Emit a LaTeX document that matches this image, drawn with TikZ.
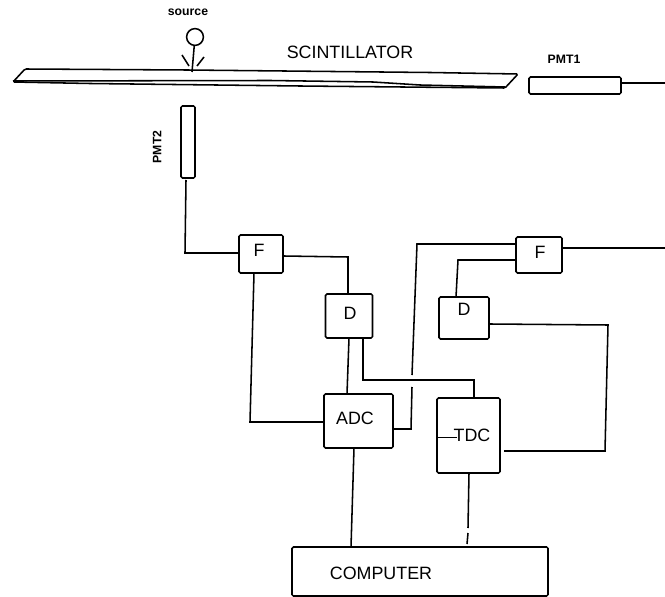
\documentclass[tikz,border=0pt]{standalone}
\usepackage{fontspec}
\setmainfont{Liberation Sans}
\usepackage{tikz}

\begin{document}
\begin{tikzpicture}[x=0.025cm,y=-0.025cm,line width=1.1pt,
  unit/.style 2 args={draw,rounded corners=1pt,minimum width=#1*0.025cm,minimum height=#2*0.025cm,inner sep=0pt},
  txt/.style={font=\fontsize{12.7}{14}\selectfont,inner sep=0pt},
  tag/.style={font=\fontsize{8.7}{10}\selectfont\bfseries,inner sep=0pt}]
  \useasboundingbox (0,0) rectangle (665,597);

  % scintillator bar and source
  \draw[rounded corners=1pt] (13,82) -- (25,69) -- (187,70) -- (430,72.5) -- (518,74) -- (505,88) -- (300,86) -- (90,83.5) -- cycle;
  \draw (13,81) -- (270,80.5) -- (373,82) -- (420,85) -- (505,87);
  \node[draw,circle,minimum size=0.42cm,inner sep=0pt] (source) at (195,37) {};
  \coordinate (hit) at (192,72);
  \draw (source) -- (hit);
  \draw (182,55) -- (189,66);
  \draw (204,57) -- (197,66);
  \node[tag] (sourcelabel) at (188,12) {source};
  \node[txt] (scint) at (350,52) {SCINTILLATOR};

  % photomultipliers
  \node[unit={92}{17}] (pmt1) at (575,85.5) {};
  \node[tag] (pmt1label) at (564,59) {PMT1};
  \node[unit={14}{72}] (pmt2) at (188,142) {};
  \node[tag,rotate=90] (pmt2label) at (157,147) {PMT2};

  % electronics
  \node[unit={44}{38}] (f1) at (261,254) {};
  \node[txt] (f1text) at (259,250) {F};
  \node[unit={47}{44}] (d1) at (349,316) {};
  \node[txt] (d1text) at (350,313) {D};
  \node[unit={69}{54}] (adc) at (358.5,421) {};
  \node[txt] (adctext) at (355,418) {ADC};
  \node[unit={46}{36}] (f2) at (539,255) {};
  \node[txt] (f2text) at (540,252) {F};
  \node[unit={50}{42}] (d2) at (464,318) {};
  \node[txt] (d2text) at (464,309) {D};
  \node[unit={63}{75}] (tdc) at (468.5,435.5) {};
  \node[txt] (tdctext) at (472,435) {TDC};
  \node[unit={256}{49}] (comp) at (420,571.5) {};
  \node[txt] (comptext) at (381,573) {COMPUTER};

  % wiring
  \coordinate (pmt1out) at (665,83);
  \coordinate (f2out) at (665,248);
  \draw[line width=0.8pt] (pmt1.east |- pmt1out) -- (pmt1out);
  \draw (186,180) -- (185,253) -- (f1.west |- 0,253);
  \draw (f1.east |- 0,256) -- (348,257) -- (d1.north -| 348,0);
  \draw (254,273) -- (250,422) -- (adc.west |- 0,422);
  \draw (349,338) -- (347,394);
  \draw (363,338) -- (363,380) -- (474,380) -- (tdc.north -| 474,0);
  \coordinate (adcout) at (394,429);
  \draw (adcout) -- (411,429) -- (412,387);
  \draw (412,375) -- (417,244) -- (f2.west |- 0,244);
  \draw (f2.east |- 0,248) -- (f2out);
  \draw (f2.west |- 0,260) -- (458,260) -- (456,297);
  \coordinate (tdcin) at (504,451);
  \draw (d2.east |- 0,324) -- (608,325) -- (605,451) -- (tdcin);
  \draw[line width=0.7pt] (tdc.west |- 0,437) -- (457,437);
  \draw (354,448) -- (351,547);
  \draw (469,473) -- (468,528);
  \draw (468,533) -- (467,544);
\end{tikzpicture}
\end{document}
